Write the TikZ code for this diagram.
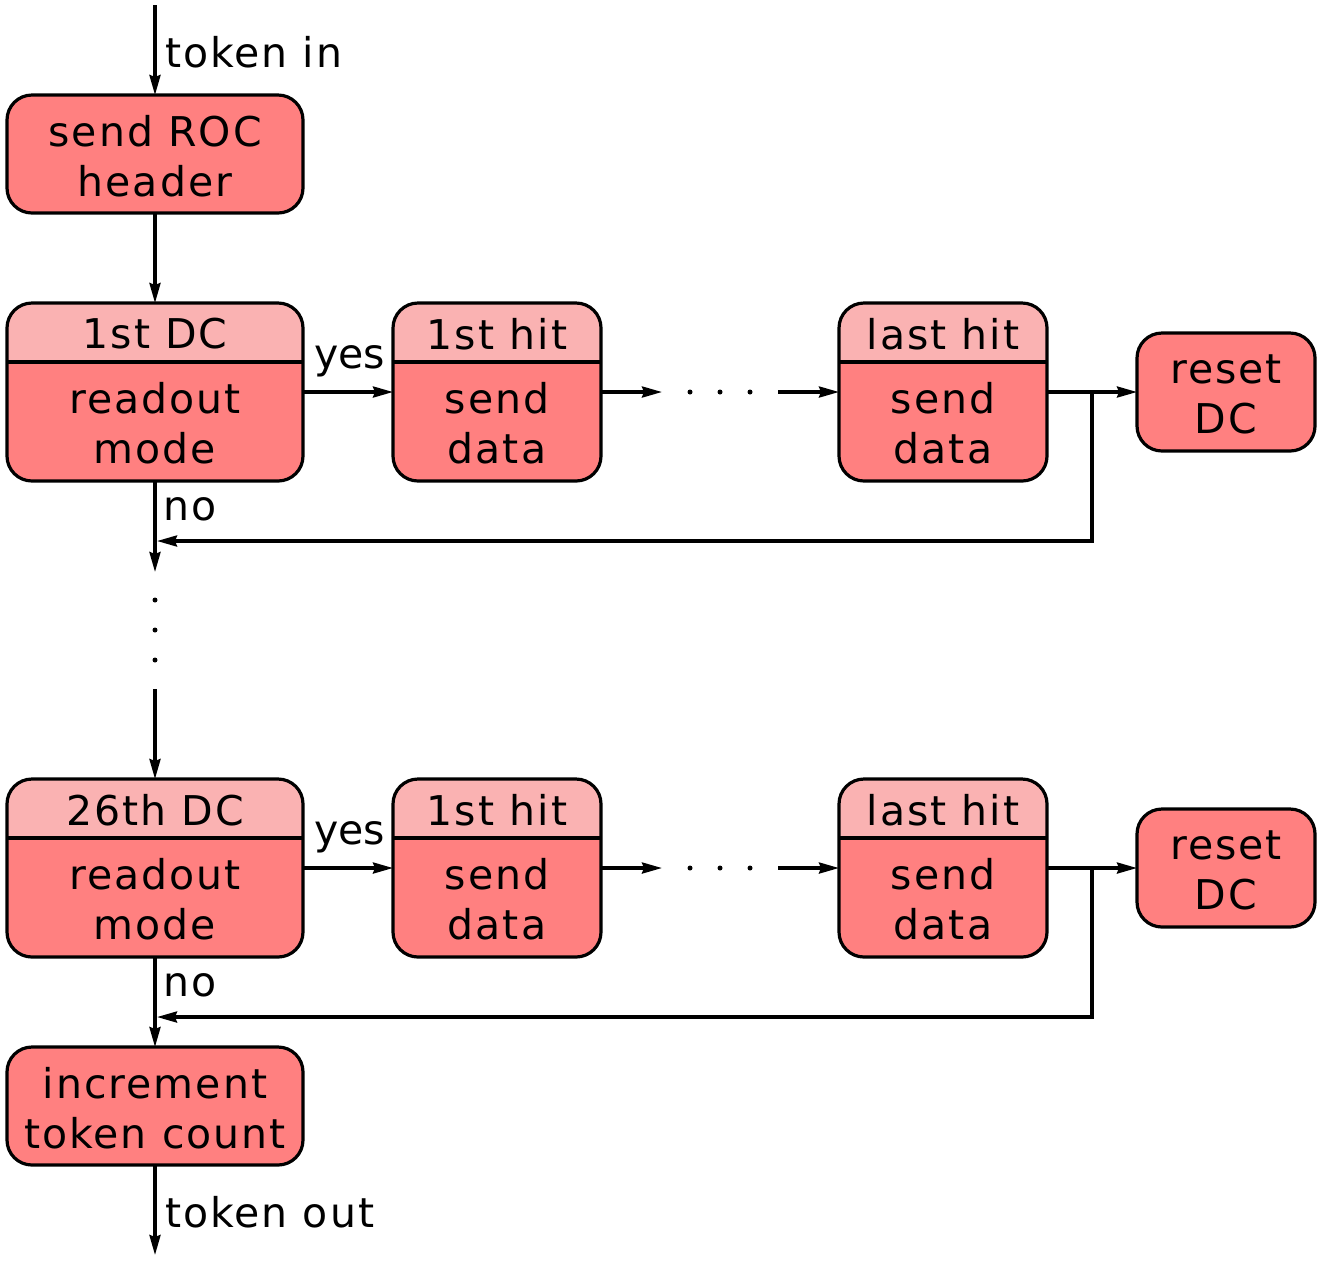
\documentclass[tikz,border=0pt]{standalone}
\usepackage{fontspec}
\setmainfont{DejaVu Sans}[LetterSpace=5]
\usetikzlibrary{arrows.meta}
\definecolor{bodycol}{RGB}{255,128,128}
\definecolor{headcol}{RGB}{250,178,178}
\begin{document}
\begin{tikzpicture}[x=0.5pt,y=-0.5pt,
  font=\fontsize{20.5pt}{25pt}\selectfont,
  every node/.style={inner sep=0pt, outer sep=0pt},
  lw/.style={line width=1.6pt},
  arr/.style={lw, -{Stealth[length=10pt,width=5.5pt,inset=1pt]}},
  onebox/.style={draw, lw, fill=bodycol, rounded corners=12.5pt, minimum height=59pt},
  twobox/.style={draw, lw, fill=bodycol, rounded corners=12.5pt, minimum height=89pt,
    path picture={
      \fill[headcol, sharp corners] (path picture bounding box.north west) rectangle ([yshift=-29.5pt]path picture bounding box.north east);
      \draw[line width=1.6pt, sharp corners] ([yshift=-29.5pt]path picture bounding box.north west) -- ([yshift=-29.5pt]path picture bounding box.north east);
    }},
  txt/.style={align=center},
  lbl/.style={anchor=base west},
  dot/.style={circle, fill=black, minimum size=2.5pt}
]
\useasboundingbox (0,0) rectangle (1320,1260);

% boxes
\node[onebox, minimum width=148pt] (b0) at (155,154) {};
\node[txt] (b0t) at (155,156) {send ROC\\header};

\node[twobox, minimum width=148pt] (dc1) at (155,392) {};
\node[txt] (dc1h) at (155,334) {1st DC};
\node[txt] (dc1b) at (155,423) {readout\\mode};

\node[twobox, minimum width=104pt] (h1) at (497,392) {};
\node[txt] (h1h) at (497,334) {1st hit};
\node[txt] (h1b) at (497,423) {send\\data};

\node[twobox, minimum width=104pt] (l1) at (943,392) {};
\node[txt] (l1h) at (943,334) {last hit};
\node[txt] (l1b) at (943,423) {send\\data};

\node[onebox, minimum width=89pt] (r1) at (1226,392) {};
\node[txt] (r1t) at (1226,394) {reset\\DC};

\node[twobox, minimum width=148pt] (dc2) at (155,868) {};
\node[txt] (dc2h) at (155,810) {26th DC};
\node[txt] (dc2b) at (155,899) {readout\\mode};

\node[twobox, minimum width=104pt] (h2) at (497,868) {};
\node[txt] (h2h) at (497,810) {1st hit};
\node[txt] (h2b) at (497,899) {send\\data};

\node[twobox, minimum width=104pt] (l2) at (943,868) {};
\node[txt] (l2h) at (943,810) {last hit};
\node[txt] (l2b) at (943,899) {send\\data};

\node[onebox, minimum width=89pt] (r2) at (1226,868) {};
\node[txt] (r2t) at (1226,870) {reset\\DC};

\node[onebox, minimum width=148pt] (inc) at (155,1106) {};
\node[txt] (inct) at (155,1108) {increment\\token count};

% coordinates
\coordinate (tin) at (155,5);
\coordinate (tout) at (155,1255);
\coordinate (d1s) at (662,392);
\coordinate (d1e) at (778,392);
\coordinate (d2s) at (662,868);
\coordinate (d2e) at (778,868);
\coordinate (br1) at (1092,392);
\coordinate (br2) at (1092,868);
\coordinate (j1) at (157,541);
\coordinate (j2) at (157,1017);
\coordinate (v1e) at (155,572);
\coordinate (v2s) at (155,689);

% connectors
\draw[arr] (tin) -- (b0.north);
\node[lbl] (ltin) at (165,67) {token in};
\draw[arr] (b0.south) -- (dc1.north);

\draw[arr] (dc1.east) -- (h1.west);
\node[lbl] (y1) at (314,368) {\addfontfeature{LetterSpace=0}yes};
\draw[arr] (h1.east) -- (d1s);
\node[dot] (p11) at (690,392) {};
\node[dot] (p12) at (720,392) {};
\node[dot] (p13) at (750,392) {};
\draw[arr] (d1e) -- (l1.west);
\draw[arr] (l1.east) -- (r1.west);
\draw[arr] (br1) |- (j1);
\node[lbl] (n1) at (163,520) {no};
\draw[arr] (dc1.south) -- (v1e);
\node[dot] (q1) at (155,600) {};
\node[dot] (q2) at (155,630) {};
\node[dot] (q3) at (155,660) {};
\draw[arr] (v2s) -- (dc2.north);

\draw[arr] (dc2.east) -- (h2.west);
\node[lbl] (y2) at (314,844) {\addfontfeature{LetterSpace=0}yes};
\draw[arr] (h2.east) -- (d2s);
\node[dot] (p21) at (690,868) {};
\node[dot] (p22) at (720,868) {};
\node[dot] (p23) at (750,868) {};
\draw[arr] (d2e) -- (l2.west);
\draw[arr] (l2.east) -- (r2.west);
\draw[arr] (br2) |- (j2);
\node[lbl] (n2) at (163,996) {no};
\draw[arr] (dc2.south) -- (inc.north);
\draw[arr] (inc.south) -- (tout);
\node[lbl] (ltout) at (165,1227) {token out};
\end{tikzpicture}
\end{document}
